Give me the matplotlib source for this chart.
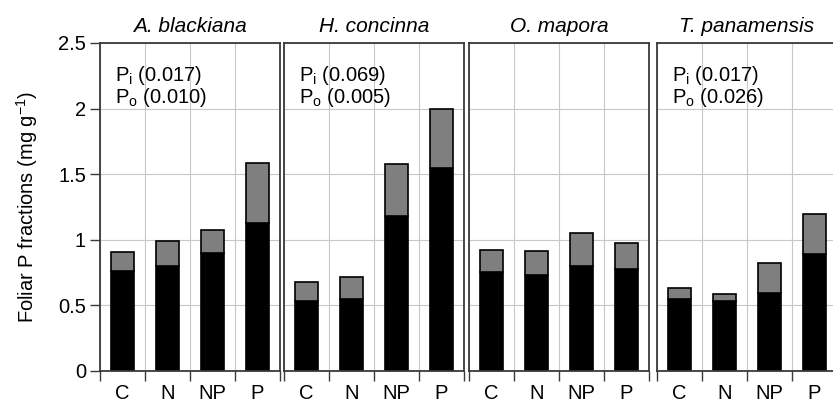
import matplotlib
matplotlib.use("Agg")
import matplotlib.pyplot as plt
import numpy as np
from matplotlib.ticker import FixedLocator

plt.rcParams['font.family'] = ['Liberation Sans', 'DejaVu Sans']
plt.rcParams['mathtext.fontset'] = 'custom'
plt.rcParams['mathtext.rm'] = 'Liberation Sans'
plt.rcParams['mathtext.it'] = 'Liberation Sans:italic'

species = ["A. blackiana", "H. concinna", "O. mapora", "T. panamensis"]
treatments = ["C", "N", "NP", "P"]
# inorganic P (Pi, black) and total (Pi + Po)
pi_vals = [
    [0.76, 0.80, 0.90, 1.125],
    [0.53, 0.55, 1.18, 1.545],
    [0.755, 0.73, 0.80, 0.78],
    [0.55, 0.535, 0.595, 0.895],
]
total_vals = [
    [0.905, 0.99, 1.075, 1.585],
    [0.675, 0.715, 1.577, 2.00],
    [0.922, 0.912, 1.055, 0.975],
    [0.632, 0.587, 0.82, 1.198],
]
p_labels = [
    ("0.017", "0.010"),
    ("0.069", "0.005"),
    None,
    ("0.017", "0.026"),
]
yticks = [0, 0.5, 1, 1.5, 2, 2.5]
ytick_labels = ["0", "0.5", "1", "1.5", "2", "2.5"]

W, H = 833, 405
fig = plt.figure(figsize=(W / 100, H / 100), dpi=100)

lefts = [100, 284, 469, 657]
pw = 180
bottom_px, top_px = 371, 43

frame_col = "#3a3a3a"
grid_col = "#c8c8c8"
FS = 14.5

x = np.arange(len(treatments))
for i, sp in enumerate(species):
    ax = fig.add_axes([lefts[i] / W, 1 - bottom_px / H, pw / W, (bottom_px - top_px) / H])
    pi = np.array(pi_vals[i])
    tot = np.array(total_vals[i])
    po = tot - pi
    ax.bar(x, pi, width=0.52, color="black", edgecolor="black", linewidth=1.2, zorder=3)
    ax.bar(x, po, bottom=pi, width=0.52, color="#7f7f7f", edgecolor="black", linewidth=1.2, zorder=3)
    ax.set_xlim(-0.5, 3.5)
    ax.set_ylim(0, 2.5)
    ax.set_xticks(x)
    ax.set_xticklabels(treatments, fontsize=FS)
    ax.xaxis.set_minor_locator(FixedLocator([-0.5, 0.5, 1.5, 2.5, 3.5]))
    ax.tick_params(axis='x', which='major', length=0, pad=9.5)
    ax.tick_params(axis='x', which='minor', length=7, width=1.0, color=frame_col, direction='out')
    ax.set_yticks(yticks)
    if i == 0:
        ax.set_yticklabels(ytick_labels, fontsize=FS)
        ax.tick_params(axis='y', length=7, width=1.0, color=frame_col, direction='out', pad=3)
        ax.set_ylabel("Foliar P fractions (mg g$^{-1}$)", fontsize=FS, labelpad=13)
    else:
        ax.tick_params(axis='y', length=0)
        ax.set_yticklabels([])
    ax.grid(True, axis='y', which='major', color=grid_col, linewidth=0.8, zorder=0)
    ax.grid(True, axis='x', which='minor', color=grid_col, linewidth=0.8, zorder=0)
    ax.grid(False, axis='x', which='major')
    ax.set_axisbelow(True)
    for s in ax.spines.values():
        s.set_color(frame_col)
        s.set_linewidth(1.3)
        s.set_zorder(4)
    ax.set_title(sp, fontsize=15, style='italic', pad=8)
    if p_labels[i] is not None:
        a, b = p_labels[i]
        ax.text(0.083, 2.21, r"P$_{\rm i}$ (" + a + ")", transform=ax.get_yaxis_transform(),
                fontsize=FS, va='baseline', ha='left')
        ax.text(0.083, 2.04, r"P$_{\rm o}$ (" + b + ")", transform=ax.get_yaxis_transform(),
                fontsize=FS, va='baseline', ha='left')

fig.savefig("out.png", dpi=100)
